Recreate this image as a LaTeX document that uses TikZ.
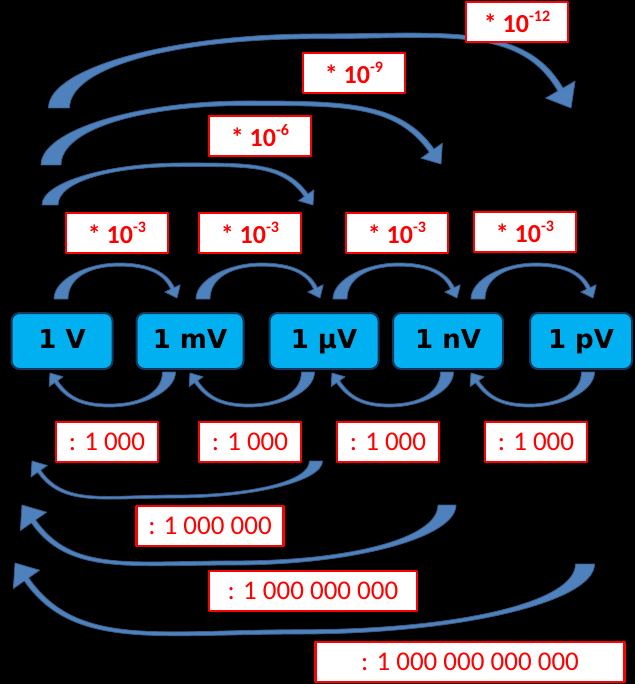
\documentclass[tikz,border=0pt]{standalone}
\usepackage{fontspec}
\setmainfont{Carlito}
\newfontfamily\unitfont{DejaVu Sans}
\usetikzlibrary{calc}
\definecolor{unitfill}{RGB}{0,176,240}
\definecolor{unitdraw}{RGB}{23,55,94}
\definecolor{arcfill}{RGB}{79,129,189}
\definecolor{arcdraw}{RGB}{56,93,138}
\tikzset{
  unitbox/.style={rectangle, rounded corners=8pt, draw=unitdraw, line width=2pt, fill=unitfill,
    minimum height=56pt, inner sep=0pt, text height=19pt, text depth=5pt,
    font=\unitfont\bfseries\fontsize{26}{30}\selectfont},
  mulbox/.style={rectangle, draw=red, line width=2.8pt, fill=white, text=red, minimum height=40pt,
    minimum width=102pt, inner sep=0pt, font=\fontsize{26}{30}\selectfont},
  divbox/.style={mulbox, font=\fontsize{27}{30}\selectfont},
  bentarc/.style={fill=arcfill, draw=arcdraw, line width=0.8pt},
  every picture/.style={line join=round}
}
\newcommand{\pw}[1]{\textbf{*} \textbf{10}\raisebox{11pt}{\fontsize{16}{16}\selectfont\bfseries #1}}
% tail, tip, rise, head angle, tail half width, head half width
\newcommand{\bentarrow}[6]{%
  \filldraw[bentarc] let \p1=(#1), \p2=(#2), \p3=({0.5*(\x1+\x2)},{\y1+#3}),
      \n1={sign(\x2-\x1)}, \n2={sign(#3)} in
    ({\x1-(\n1)*#5},\y1)
    .. controls +(0pt,{0.55*(\y3-\y1)}) and +({-0.55*(\x3-\x1)},0pt) .. (\p3)
    .. controls +({0.5*(\x2-\x3)},0pt) and +(#4+180:{0.3*abs(\x2-\x3)})
    .. ($(\p2)+(#4+180:{1.25*#6})+(#4+90:{0.28*#5})$)
    -- ($(\p2)+(#4+180:{1.25*#6})+(#4+90:{#6})$)
    -- (\p2)
    -- ($(\p2)+(#4+180:{1.25*#6})+(#4-90:{#6})$)
    -- ($(\p2)+(#4+180:{1.25*#6})+(#4-90:{0.28*#5})$)
    .. controls +(#4+180:{0.3*abs(\x2-\x3)}) and +({0.5*(\x2-\x3)},0pt)
    .. (\x3,{\y3-(\n2)*0.45*#5})
    .. controls +({-0.55*(\x3-\x1)},0pt) and +(0pt,{0.55*(\y3-\y1)})
    .. ({\x1+(\n1)*#5},\y1) -- cycle;}

\begin{document}
\begin{tikzpicture}[x=1pt,y=-1pt]
  \fill[black] (0,0) rectangle (635,684);
  \useasboundingbox (0,0) rectangle (635,684);

  \coordinate (ma1) at (61,299);   \coordinate (mb1) at (177,298);
  \coordinate (ma2) at (203,299);  \coordinate (mb2) at (320,298);
  \coordinate (ma3) at (340,299);  \coordinate (mb3) at (457,298);
  \coordinate (ma4) at (478,299);  \coordinate (mb4) at (593,298);
  \coordinate (ma6) at (50,205);   \coordinate (mb6) at (313,205);
  \coordinate (ma9) at (51,165);   \coordinate (mb9) at (441,164);
  \coordinate (ma12) at (59,108);  \coordinate (mb12) at (571,108);

  \coordinate (da1) at (169,372);  \coordinate (db1) at (50,373);
  \coordinate (da2) at (308,372);  \coordinate (db2) at (190,373);
  \coordinate (da3) at (447,372);  \coordinate (db3) at (332,373);
  \coordinate (da4) at (588,372);  \coordinate (db4) at (471,373);
  \coordinate (da6) at (316,461);  \coordinate (db6) at (32,461);
  \coordinate (da9) at (447,505);  \coordinate (db9) at (22,505);
  \coordinate (da12) at (585,564); \coordinate (db12) at (15,563);

  \bentarrow{ma1}{mb1}{36pt}{-65}{7pt}{8.5pt}
  \bentarrow{ma2}{mb2}{36pt}{-65}{7pt}{8.5pt}
  \bentarrow{ma3}{mb3}{36pt}{-65}{7pt}{8.5pt}
  \bentarrow{ma4}{mb4}{36pt}{-65}{7pt}{8.5pt}
  \bentarrow{ma6}{mb6}{42pt}{-55}{8pt}{9.5pt}
  \bentarrow{ma9}{mb9}{64pt}{-55}{10pt}{13pt}
  \bentarrow{ma12}{mb12}{74pt}{-60}{10.5pt}{17pt}

  \bentarrow{da1}{db1}{-35pt}{125}{6.5pt}{8.5pt}
  \bentarrow{da2}{db2}{-35pt}{125}{6.5pt}{8.5pt}
  \bentarrow{da3}{db3}{-35pt}{125}{6.5pt}{8.5pt}
  \bentarrow{da4}{db4}{-35pt}{125}{6.5pt}{8.5pt}
  \bentarrow{da6}{db6}{-37pt}{125}{6.5pt}{10pt}
  \bentarrow{da9}{db9}{-60pt}{125}{9pt}{16pt}
  \bentarrow{da12}{db12}{-70pt}{125}{9.5pt}{16pt}

  \node[unitbox, minimum width=101pt] (v) at (62,341) {1 V};
  \node[unitbox, minimum width=107pt] (mv) at (190,341) {1 mV};
  \node[unitbox, minimum width=109pt] (uv) at (324,341) {1 µV};
  \node[unitbox, minimum width=110pt] (nv) at (448,341) {1 nV};
  \node[unitbox, minimum width=102pt] (pv) at (581,341) {1 pV};

  \node[mulbox] (x3a) at (117,233) {\pw{-3}};
  \node[mulbox] (x3b) at (250,233) {\pw{-3}};
  \node[mulbox] (x3c) at (397,233) {\pw{-3}};
  \node[mulbox] (x3d) at (525,232) {\pw{-3}};
  \node[mulbox] (x6) at (260,136) {\pw{-6}};
  \node[mulbox] (x9) at (354,73) {\pw{-9}};
  \node[mulbox] (x12) at (517,22) {\pw{-12}};

  \node[divbox] (d3a) at (107,442) {: 1 000};
  \node[divbox] (d3b) at (250,442) {: 1 000};
  \node[divbox] (d3c) at (388,442) {: 1 000};
  \node[divbox] (d3d) at (536,442) {: 1 000};
  \node[divbox, minimum width=147pt] (d6) at (210,526) {: 1 000 000};
  \node[divbox, minimum width=208pt] (d9) at (313,591) {: 1 000 000 000};
  \node[divbox, minimum width=309pt] (d12) at (470,662) {: 1 000 000 000 000};
\end{tikzpicture}
\end{document}
